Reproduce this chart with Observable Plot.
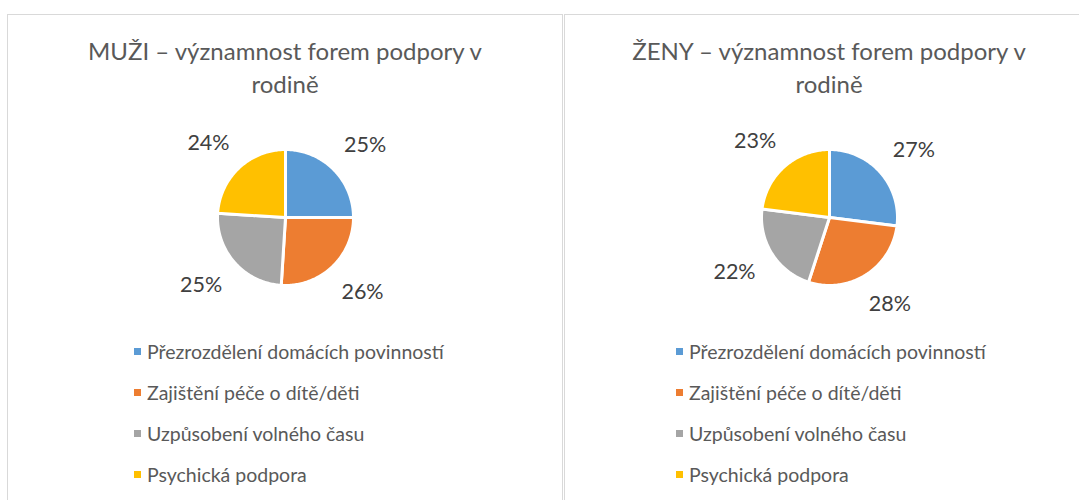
<!DOCTYPE html>
<html>
<head>
<meta charset="utf-8">
<script src="https://cdn.jsdelivr.net/npm/d3@7"></script>
<script src="https://cdn.jsdelivr.net/npm/@observablehq/plot@0.6"></script>
<style>
  html, body { margin: 0; padding: 0; background: #fff; }
  body { width: 1079px; height: 500px; position: relative; overflow: hidden; font-family: Lato, "Open Sans", sans-serif; }
  .panel { position: absolute; top: 14px; height: 500px; border: 1px solid #d9d9d9; box-sizing: border-box; background: #fff; }
  .title { position: absolute; left: 0; right: 0; top: 19px; text-align: center; color: #595959; font-size: 24px; line-height: 33px; }
  .plot { position: absolute; left: 0; top: 102px; }
  .legend { position: absolute; top: 316px; color: #595959; font-size: 19.5px; }
  .legend .row { height: 41px; line-height: 41px; display: flex; align-items: center; white-space: nowrap; }
  .legend .sw { width: 7px; height: 7px; margin-right: 6px; flex: none; }
</style>
</head>
<body>
<div id="root"></div>
<script>
// ---- data ----
const categories = ["Přezrozdělení domácích povinností", "Zajištění péče o dítě/děti", "Uzpůsobení volného času", "Psychická podpora"];
const colors = ["#5b9bd5", "#ed7d31", "#a5a5a5", "#ffc000"];
const menValues = [25, 26, 25, 24];
const womenValues = [27, 28, 22, 23];
const menTitle = ["MUŽI – významnost forem podpory v", "rodině"];
const womenTitle = ["ŽENY – významnost forem podpory v", "rodině"];

function pieChart(values, W, cx) {
  const r = 68, H = 200, cy = 100;
  const arcs = d3.pie().sort(null)(values);
  const poly = [];
  const labels = [];
  // label box (px) placed just outside the slice at its mid-angle
  const gap = 24, lw = 41, lh = 20;
  arcs.forEach((a, i) => {
    const cat = categories[i];
    poly.push({cat, x: 0, y: 0});
    const n = Math.max(2, Math.ceil((a.endAngle - a.startAngle) / (Math.PI / 180)));
    for (let k = 0; k <= n; k++) {
      const t = a.startAngle + (a.endAngle - a.startAngle) * k / n;
      poly.push({cat, x: Math.sin(t), y: Math.cos(t)});
    }
    poly.push({cat, x: 0, y: 0});
    const mid = (a.startAngle + a.endAngle) / 2;
    const s = Math.sin(mid), c = Math.cos(mid);
    labels.push({
      x: ((r + gap) * s + lw / 2 * s) / r,
      y: ((r + gap) * c + lh / 2 * c) / r,
      text: values[i] + "%"
    });
  });
  return Plot.plot({
    width: W, height: H, margin: 0,
    x: {domain: [-cx / r, (W - cx) / r], axis: null},
    y: {domain: [-cy / r, cy / r], axis: null},
    color: {domain: categories, range: colors},
    style: {fontFamily: "Lato, sans-serif", background: "transparent"},
    marks: [
      Plot.line(poly, {x: "x", y: "y", z: "cat", fill: "cat", stroke: "white", strokeWidth: 3, strokeLinejoin: "round"}),
      Plot.text(labels, {x: "x", y: "y", text: "text", fontSize: 21.5, fill: "#404040"})
    ]
  });
}

function panel(left, width, titleLines, values, legendLeft) {
  const p = document.createElement("div");
  p.className = "panel";
  p.style.left = left + "px";
  p.style.width = width + "px";
  const t = document.createElement("div");
  t.className = "title";
  t.innerHTML = titleLines.join("<br>");
  p.appendChild(t);
  const pl = document.createElement("div");
  pl.className = "plot";
  pl.appendChild(pieChart(values, width - 2, (width - 2) / 2));
  p.appendChild(pl);
  const lg = document.createElement("div");
  lg.className = "legend";
  lg.style.left = legendLeft + "px";
  categories.forEach((c, i) => {
    const row = document.createElement("div");
    row.className = "row";
    const sw = document.createElement("span");
    sw.className = "sw";
    sw.style.background = colors[i];
    const tx = document.createElement("span");
    tx.textContent = c;
    row.appendChild(sw); row.appendChild(tx);
    lg.appendChild(row);
  });
  p.appendChild(lg);
  document.getElementById("root").appendChild(p);
}

panel(7, 556, menTitle, menValues, 126);
panel(564, 530, womenTitle, womenValues, 111);
</script>
</body>
</html>
